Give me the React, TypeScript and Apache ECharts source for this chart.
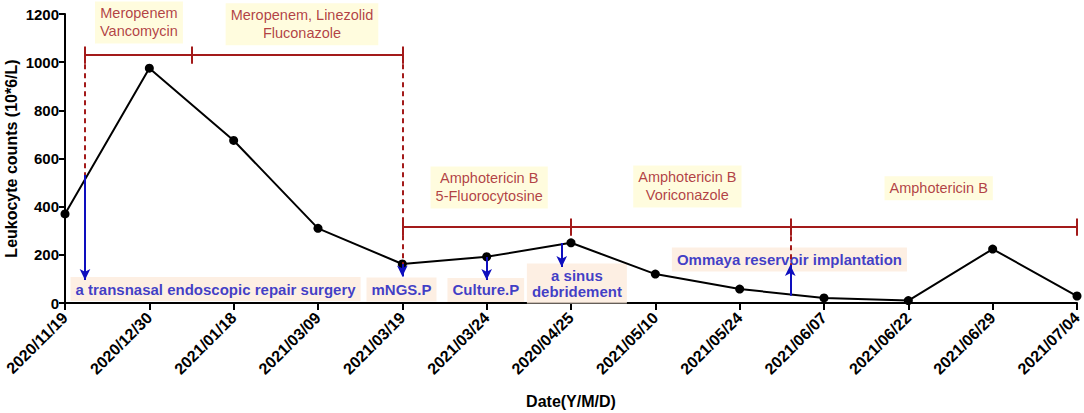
import React, { useEffect, useRef } from "react";
import * as echarts from "echarts";

// ---- data ----
const dates = [
  "2020/11/19", "2020/12/30", "2021/01/18", "2021/03/09", "2021/03/19", "2021/03/24", "2020/04/25",
  "2021/05/10", "2021/05/24", "2021/06/07", "2021/06/22", "2021/06/29", "2021/07/04",
];
const leukocytes = [370, 975, 675, 310, 162, 192, 250, 120, 58, 21, 10, 224, 29];

// treatment regimens (red boxes), positioned in [category index, value] coordinates
const regimenTexts = [
  "Meropenem\nVancomycin",
  "Meropenem, Linezolid\nFluconazole",
  "Amphotericin B\n5-Fluorocytosine",
  "Amphotericin B\nVoriconazole",
  "Amphotericin B",
];
const regimenAt = [
  [0.877, 1165],
  [2.81, 1157],
  [5.03, 480],
  [7.38, 484],
  [10.36, 476],
];

// clinical events (blue boxes)
const eventTexts = [
  "a transnasal endoscopic repair surgery",
  "mNGS.P",
  "Culture.P",
  "a sinus\ndebridement",
  "Ommaya reservoir implantation",
];
const eventAt = [
  [1.785, 58],
  [3.99, 56],
  [4.99, 54],
  [6.07, 81],
  [8.59, 181],
];

// regimen brackets: level and stops (category index)
const bracketLevels = [1029, 315];
const bracketStops = [
  [0.237, 1.5, 4],
  [4, 6, 8.6, 12],
];
const bracketTickHalf = 36;

// dashed red guides: [x, fromValue, toValue]
const dashedGuides = [
  [0.237, 1029, 531],
  [4, 1029, 162],
  [8.6, 315, 150],
];

// blue arrows: [x, fromValue, toValue]
const eventArrows = [
  [0.237, 531, 95],
  [4, 162, 110],
  [5, 191, 95],
  [5.89, 249, 149],
  [8.6, 30, 158],
];

const FONT = "Liberation Sans, Arial, Helvetica, sans-serif";
const RED = "#9E0E1A";
const RED_LINE = "#A31A1A";
const BLUE = "#0E0EBE";

export default function App() {
  const ref = useRef<HTMLDivElement>(null);

  useEffect(() => {
    if (!ref.current) return;
    const chart = echarts.init(ref.current, undefined, { renderer: "svg" });

    const bracketLines: any[] = [];
    bracketLevels.forEach((lvl, i) => {
      const stops = bracketStops[i];
      bracketLines.push([{ coord: [stops[0], lvl] }, { coord: [stops[stops.length - 1], lvl] }]);
      stops.forEach((s) => {
        bracketLines.push([{ coord: [s, lvl - bracketTickHalf] }, { coord: [s, lvl + bracketTickHalf] }]);
      });
    });
    const dashedLines = dashedGuides.map((d) => [{ coord: [d[0], d[1]] }, { coord: [d[0], d[2]] }]);
    const arrowLines = eventArrows.map((d) => [{ coord: [d[0], d[1]] }, { coord: [d[0], d[2]] }]);

    const option: any = {
      animation: false,
      backgroundColor: "#ffffff",
      textStyle: { fontFamily: FONT },
      grid: { left: 65, right: 7, top: 14, bottom: 110, containLabel: false, outerBoundsMode: "none" },
      xAxis: [
        {
          type: "category",
          data: dates,
          boundaryGap: false,
          name: "Date(Y/M/D)",
          nameLocation: "middle",
          nameGap: 90,
          nameMoveOverlap: false,
          nameTextStyle: { fontFamily: FONT, fontWeight: "bold", fontSize: 16, color: "#000" },
          axisLine: { lineStyle: { color: "#000", width: 2 } },
          axisTick: { length: 7, lineStyle: { color: "#000", width: 2 } },
          axisLabel: {
            rotate: 45,
            interval: 0,
            margin: 12,
            fontFamily: FONT,
            fontWeight: "bold",
            fontSize: 16,
            color: "#000",
          },
          splitLine: { show: false },
        },
        {
          type: "value",
          min: 0,
          max: 12,
          show: false,
        },
      ],
      yAxis: {
        type: "value",
        min: 0,
        max: 1200,
        interval: 200,
        name: "Leukocyte counts (10*6/L)",
        nameLocation: "middle",
        nameGap: 46,
        nameMoveOverlap: false,
        nameTextStyle: { fontFamily: FONT, fontWeight: "bold", fontSize: 16, color: "#000" },
        axisLine: { show: true, lineStyle: { color: "#000", width: 2 } },
        axisTick: { show: true, length: 6, lineStyle: { color: "#000", width: 2 } },
        axisLabel: {
          fontFamily: FONT,
          fontWeight: "bold",
          fontSize: 15,
          color: "#000",
          margin: 6,
          formatter: (v: number) => String(v),
        },
        splitLine: { show: false },
      },
      series: [
        {
          type: "scatter",
          xAxisIndex: 1,
          z: 1,
          symbolSize: 1,
          itemStyle: { color: "rgba(0,0,0,0)" },
          silent: true,
          data: regimenAt.map((p, i) => ({ value: p, name: regimenTexts[i] })),
          label: {
            show: true,
            position: "inside",
            formatter: "{b}",
            fontFamily: FONT,
            fontSize: 14.5,
            lineHeight: 18,
            color: RED,
            align: "center",
            backgroundColor: "#FFFBD6",
            padding: [3, 5],
          },
        },
        {
          type: "scatter",
          xAxisIndex: 1,
          z: 1,
          symbolSize: 1,
          itemStyle: { color: "rgba(0,0,0,0)" },
          silent: true,
          data: eventAt.map((p, i) => ({ value: p, name: eventTexts[i] })),
          label: {
            show: true,
            position: "inside",
            formatter: "{b}",
            fontFamily: FONT,
            fontSize: 15,
            fontWeight: "bold",
            lineHeight: 16,
            color: BLUE,
            align: "center",
            backgroundColor: "#FCEBDC",
            padding: [4, 5],
          },
        },
        {
          type: "line",
          xAxisIndex: 0,
          z: 3,
          data: leukocytes,
          symbol: "circle",
          symbolSize: 9,
          lineStyle: { color: "#000", width: 2 },
          itemStyle: { color: "#000" },
          silent: true,
        },
        {
          type: "line",
          xAxisIndex: 1,
          z: 4,
          data: [],
          silent: true,
          markLine: {
            silent: true,
            symbol: "none",
            label: { show: false },
            lineStyle: { color: RED_LINE, width: 2, type: "solid" },
            data: bracketLines,
          },
        },
        {
          type: "line",
          xAxisIndex: 1,
          z: 4,
          data: [],
          silent: true,
          markLine: {
            silent: true,
            symbol: "none",
            label: { show: false },
            lineStyle: { color: RED_LINE, width: 2, type: [5, 4] },
            data: dashedLines,
          },
        },
        {
          type: "line",
          xAxisIndex: 1,
          z: 5,
          data: [],
          silent: true,
          markLine: {
            silent: true,
            symbol: ["none", "arrow"],
            symbolSize: [8, 11],
            label: { show: false },
            lineStyle: { color: BLUE, width: 2, type: "solid" },
            data: arrowLines,
          },
        },
      ],
    };

    chart.setOption(option);
    return () => chart.dispose();
  }, []);

  return (
    <div
      ref={ref}
      style={{ position: "fixed", left: 0, top: 0, width: 1084, height: 413, background: "#fff" }}
    />
  );
}
